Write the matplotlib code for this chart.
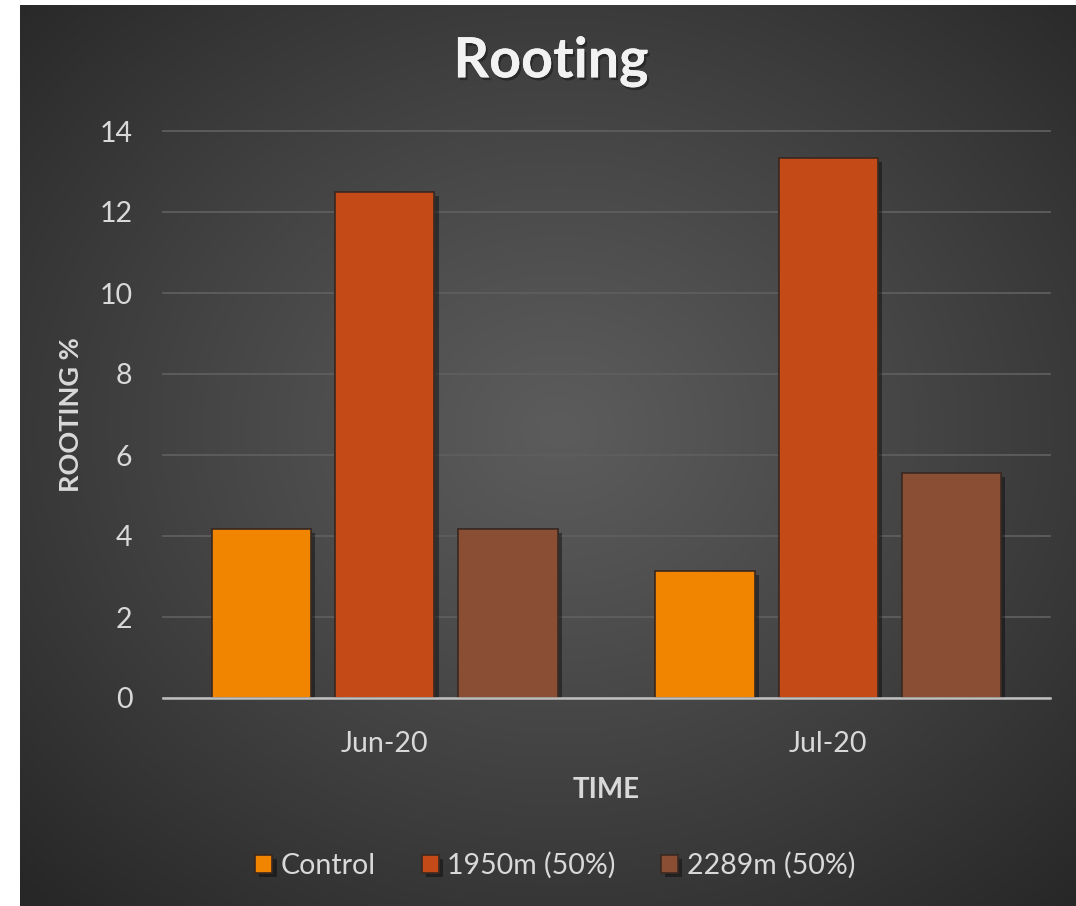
import numpy as np
import matplotlib.pyplot as plt
import matplotlib.patheffects as pe

# data
months = ["Jun-20", "Jul-20"]
control = [4.17, 3.13]
m1950 = [12.5, 13.33]
m2289 = [4.17, 5.56]
series_names = ["Control", "1950m (50%)", "2289m (50%)"]
colors = ["#F28500", "#C44B17", "#8A4E34"]

plt.rcParams['font.family'] = ['Lato', 'DejaVu Sans']
txt = "#D9D9D9"

fig = plt.figure(figsize=(10.76, 9.06), dpi=100)
fig.patch.set_facecolor("white")

# radial gradient background (dark frame, lighter in the middle)
bg = fig.add_axes([20 / 1076, 0, 1 - 20 / 1076, 1 - 5 / 906])
bg.set_axis_off()
h, w = 450, 530
yy, xx = np.mgrid[0:h, 0:w]
cx, cy = 0.51 * w, 0.47 * h
r = np.sqrt(((xx - cx) / w) ** 2 + ((yy - cy) / h) ** 2) / 0.72
r = np.clip(r, 0, 1)
light, dark = 0x5C / 255, 0x27 / 255
val = light - (light - dark) * r ** 1.1
img = np.dstack([val, val, val])
bg.imshow(img, aspect="auto", extent=[0, 1, 0, 1], interpolation="bilinear")
bg.set_xlim(0, 1)
bg.set_ylim(0, 1)

ax = fig.add_axes([163 / 1076, 1 - 698 / 906, (1050 - 163) / 1076, (698 - 131) / 906])
ax.patch.set_alpha(0)

x = np.arange(len(months))
width = 0.224
pitch = 0.278
shadow = [pe.withSimplePatchShadow(offset=(3, -3), shadow_rgbFace="black", alpha=0.4),
          pe.Normal()]
for i, (vals, name) in enumerate(zip([control, m1950, m2289], series_names)):
    ax.bar(x + (i - 1) * pitch, vals, width, color=colors[i], edgecolor="#3A2A22",
           linewidth=1.2, label=name, path_effects=shadow, zorder=3)

ax.set_xlim(-0.5, 1.5)
ax.set_ylim(0, 14)
ax.set_yticks(range(0, 15, 2))
ax.set_xticks(x)
ax.set_xticklabels(months)
ax.yaxis.grid(True, color="#5E5E5E", linewidth=1.3)
for gl in ax.get_ygridlines():
    gl.set_clip_on(False)
ax.set_axisbelow(True)
ax.axhline(0, color="#BFBFBF", linewidth=1.8, zorder=4, clip_on=False)
for s in ax.spines.values():
    s.set_visible(False)
ax.tick_params(length=0, colors=txt, labelsize=20.5)
ax.tick_params(axis="y", pad=22)
ax.tick_params(axis="x", pad=24)

ax.set_ylabel("ROOTING %", color=txt, fontsize=19.5, fontweight="bold", labelpad=12)
ax.set_xlabel("TIME", color=txt, fontsize=20, fontweight="bold", labelpad=14)

fig.text(0.512, 0.932, "Rooting", color="#F2F2F2", fontsize=40, fontweight="bold",
         ha="center", va="center",
         path_effects=[pe.withSimplePatchShadow(offset=(1.5, -2), shadow_rgbFace="black", alpha=0.35),
                       pe.Normal()])

leg = fig.legend(loc="center", bbox_to_anchor=(0.516, 0.045), ncol=3, frameon=False,
                 fontsize=20.5, handlelength=0.6, handleheight=0.6, handletextpad=0.3,
                 columnspacing=1.6)
for t in leg.get_texts():
    t.set_color(txt)

fig.savefig("out.png", dpi=100)
